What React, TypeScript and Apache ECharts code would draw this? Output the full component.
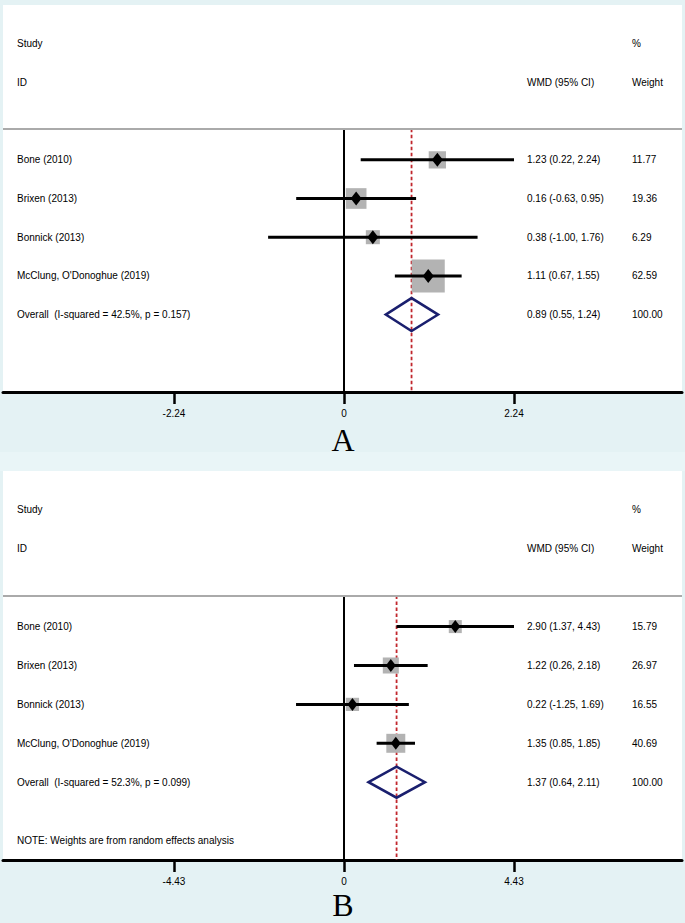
import React, { useEffect, useRef } from "react";
import * as echarts from "echarts";

// ---------------- data ----------------
const STUDIES = ["Bone (2010)", "Brixen (2013)", "Bonnick (2013)", "McClung, O'Donoghue (2019)"];
const HEADER_TOP = ["Study", "%"];
const HEADER_BOTTOM = ["ID", "WMD (95% CI)", "Weight"];

const A_EST = [1.23, 0.16, 0.38, 1.11];
const A_LO = [0.22, -0.63, -1.0, 0.67];
const A_HI = [2.24, 0.95, 1.76, 1.55];
const A_WEIGHT = [11.77, 19.36, 6.29, 62.59];
const A_OVERALL = [0.89, 0.55, 1.24]; // estimate, lower, upper
const A_OVERALL_LABEL = "Overall  (I-squared = 42.5%, p = 0.157)";
const A_TICKS = [-2.24, 0, 2.24];

const B_EST = [2.9, 1.22, 0.22, 1.35];
const B_LO = [1.37, 0.26, -1.25, 0.85];
const B_HI = [4.43, 2.18, 1.69, 1.85];
const B_WEIGHT = [15.79, 26.97, 16.55, 40.69];
const B_OVERALL = [1.37, 0.64, 2.11];
const B_OVERALL_LABEL = "Overall  (I-squared = 52.3%, p = 0.099)";
const B_TICKS = [-4.43, 0, 4.43];
const B_NOTE = "NOTE: Weights are from random effects analysis";

const TOTAL_WEIGHT = "100.00";

// ---------------- layout ----------------
const FONT = "'Liberation Sans', Arial, Helvetica, sans-serif";
const SERIF = "'Liberation Serif', 'DejaVu Serif', 'Times New Roman', serif";
const GRID_LEFT = 3;
const GRID_WIDTH = 679;
const ZERO_X = 344;
const TICK_SPAN_PX = 170;
const COL_X = [17, 527, 632];
const Y_MIN = -3;
const Y_MAX = 7;
const GRAY_ROW = 0.2;

type Panel = {
  est: number[]; lo: number[]; hi: number[]; weight: number[];
  overall: number[]; overallLabel: string; ticks: number[]; note?: string;
  top: number; height: number;
  boxBase: number; boxK: number; dW: number; dH: number; ovH: number;
  letter: string; letterY: number;
};

const PANELS: Panel[] = [
  {
    est: A_EST, lo: A_LO, hi: A_HI, weight: A_WEIGHT, overall: A_OVERALL,
    overallLabel: A_OVERALL_LABEL, ticks: A_TICKS,
    top: 5, height: 387, boxBase: 5.2, boxK: 3.52, dW: 5.5, dH: 7, ovH: 16.5,
    letter: "A", letterY: 440,
  },
  {
    est: B_EST, lo: B_LO, hi: B_HI, weight: B_WEIGHT, overall: B_OVERALL,
    overallLabel: B_OVERALL_LABEL, ticks: B_TICKS, note: B_NOTE,
    top: 471, height: 389, boxBase: 3.1, boxK: 2.49, dW: 5, dH: 6.5, ovH: 15.5,
    letter: "B", letterY: 905,
  },
];

const fmt = (v: number) => v.toFixed(2);

function buildOption() {
  const grid: any[] = [];
  const xAxis: any[] = [];
  const yAxis: any[] = [];
  const series: any[] = [];
  const graphic: any[] = [
    { type: "rect", shape: { x: 0, y: 452, width: 685, height: 19 }, style: { fill: "#e9f5f7" }, z: -10 },
  ];

  PANELS.forEach((p, pi) => {
    const pxPerUnit = TICK_SPAN_PX / p.ticks[2];
    const xMin = -(ZERO_X - GRID_LEFT) / pxPerUnit;
    const xMax = (GRID_LEFT + GRID_WIDTH - ZERO_X) / pxPerUnit;

    grid.push({
      left: GRID_LEFT, top: p.top, width: GRID_WIDTH, height: p.height,
      show: true, backgroundColor: "#ffffff", borderWidth: 0, containLabel: false,
    });
    xAxis.push({
      gridIndex: pi, type: "value", min: xMin, max: xMax,
      axisLine: { show: true, onZero: false, lineStyle: { color: "#000", width: 3 } },
      axisTick: { show: true, customValues: p.ticks, length: 12, lineStyle: { color: "#000", width: 2.5 } },
      axisLabel: {
        show: true, customValues: p.ticks, margin: 16, color: "#000", fontSize: 10, fontFamily: FONT,
        formatter: (v: number) => String(v),
      },
      splitLine: { show: false },
    });
    yAxis.push({ gridIndex: pi, type: "value", min: Y_MIN, max: Y_MAX, inverse: true, show: false });

    // zero line + header separator
    series.push({
      type: "line", xAxisIndex: pi, yAxisIndex: pi, symbol: "none", z: 1, silent: true,
      data: [[0, GRAY_ROW], [0, Y_MAX]],
      lineStyle: { color: "#000", width: 2 },
      markLine: {
        silent: true, symbol: ["none", "none"], label: { show: false },
        lineStyle: { color: "#aaaaaa", width: 2, type: "solid" },
        data: [{ yAxis: GRAY_ROW }],
      },
    });
    // pooled estimate dashed line
    series.push({
      type: "line", xAxisIndex: pi, yAxisIndex: pi, symbol: "none", z: 1, silent: true,
      data: [[p.overall[0], GRAY_ROW], [p.overall[0], Y_MAX]],
      lineStyle: { color: "#c1272d", width: 1.8, type: [3.5, 2.5] },
    });

    // studies
    series.push({
      type: "custom", xAxisIndex: pi, yAxisIndex: pi, z: 2, silent: true,
      data: p.est.map((e, i) => [e, i + 1, p.lo[i], p.hi[i], p.weight[i]]),
      renderItem: (params: any, api: any) => {
        const est = api.value(0), row = api.value(1), lo = api.value(2), hi = api.value(3), w = api.value(4);
        const c = api.coord([est, row]);
        const a = api.coord([lo, row]);
        const b = api.coord([hi, row]);
        const side = p.boxBase + p.boxK * Math.sqrt(w);
        const cx = c[0], cy = c[1];
        return {
          type: "group",
          children: [
            { type: "rect", shape: { x: cx - side / 2, y: cy - side / 2, width: side, height: side }, style: { fill: "#b3b3b3" } },
            { type: "line", shape: { x1: a[0], y1: cy, x2: b[0], y2: cy }, style: { stroke: "#000", lineWidth: 3 } },
            {
              type: "polygon",
              shape: { points: [[cx - p.dW, cy], [cx, cy - p.dH], [cx + p.dW, cy], [cx, cy + p.dH]] },
              style: { fill: "#000" },
            },
          ],
        };
      },
    });

    // overall diamond
    series.push({
      type: "custom", xAxisIndex: pi, yAxisIndex: pi, z: 3, silent: true,
      data: [[p.overall[0], STUDIES.length + 1, p.overall[1], p.overall[2]]],
      renderItem: (params: any, api: any) => {
        const row = api.value(1);
        const c = api.coord([api.value(0), row]);
        const a = api.coord([api.value(2), row]);
        const b = api.coord([api.value(3), row]);
        return {
          type: "polygon",
          shape: { points: [[a[0], c[1]], [c[0], c[1] - p.ovH], [b[0], c[1]], [c[0], c[1] + p.ovH]] },
          style: { fill: "none", stroke: "#1a1f6e", lineWidth: 2.5, lineJoin: "miter" },
        };
      },
    });

    // table texts
    const texts: { col: number; row: number; text: string }[] = [];
    texts.push({ col: 0, row: -2, text: HEADER_TOP[0] });
    texts.push({ col: 2, row: -2, text: HEADER_TOP[1] });
    texts.push({ col: 0, row: -1, text: HEADER_BOTTOM[0] });
    texts.push({ col: 1, row: -1, text: HEADER_BOTTOM[1] });
    texts.push({ col: 2, row: -1, text: HEADER_BOTTOM[2] });
    STUDIES.forEach((s, i) => {
      texts.push({ col: 0, row: i + 1, text: s });
      texts.push({ col: 1, row: i + 1, text: `${fmt(p.est[i])} (${fmt(p.lo[i])}, ${fmt(p.hi[i])})` });
      texts.push({ col: 2, row: i + 1, text: fmt(p.weight[i]) });
    });
    const oRow = STUDIES.length + 1;
    texts.push({ col: 0, row: oRow, text: p.overallLabel });
    texts.push({ col: 1, row: oRow, text: `${fmt(p.overall[0])} (${fmt(p.overall[1])}, ${fmt(p.overall[2])})` });
    texts.push({ col: 2, row: oRow, text: TOTAL_WEIGHT });
    if (p.note) texts.push({ col: 0, row: oRow + 1.5, text: p.note });

    series.push({
      type: "custom", xAxisIndex: pi, yAxisIndex: pi, z: 4, silent: true,
      data: texts.map((t) => [0, t.row]),
      renderItem: (params: any, api: any) => {
        const t = texts[params.dataIndex];
        const y = api.coord([0, api.value(1)])[1];
        return {
          type: "text",
          x: COL_X[t.col],
          y,
          style: {
            text: t.text, fill: "#000", fontSize: 10, fontFamily: FONT,
            align: "left", verticalAlign: "middle",
          },
        };
      },
    });

    graphic.push({
      type: "text", x: ZERO_X - 1, y: p.letterY, z: 10,
      style: { text: p.letter, fill: "#000", fontSize: 32, fontFamily: SERIF, align: "center", verticalAlign: "middle" },
    });
  });

  return {
    animation: false,
    backgroundColor: "#e4f2f4",
    grid, xAxis, yAxis, series, graphic,
  };
}

export default function App() {
  const ref = useRef<HTMLDivElement>(null);
  useEffect(() => {
    const chart = echarts.init(ref.current as HTMLDivElement, null, { renderer: "svg" });
    chart.setOption(buildOption() as any);
    return () => chart.dispose();
  }, []);
  return <div ref={ref} style={{ position: "absolute", left: 0, top: 0, width: 685, height: 923 }} />;
}
